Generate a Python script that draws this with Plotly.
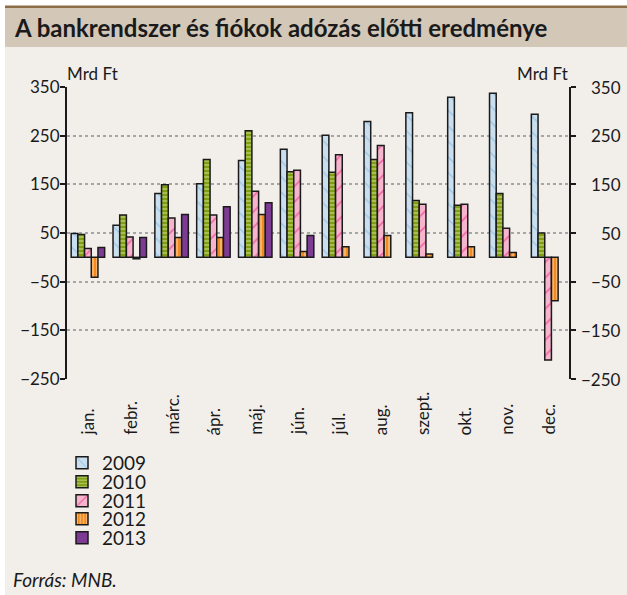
"""Bank system pre-tax result by month (MNB chart)."""
import plotly.graph_objects as go

MONTHS = ['jan.', 'febr.', 'márc.', 'ápr.', 'máj.', 'jún.',
          'júl.', 'aug.', 'szept.', 'okt.', 'nov.', 'dec.']
YEARS = ['2009', '2010', '2011', '2012', '2013']

V2009 = [49, 66, 131, 151, 199, 222, 251, 279, 297, 329, 337, 294]
V2010 = [47, 87, 149, 201, 260, 176, 175, 201, 117, 107, 131, 50]
V2011 = [18, 42, 81, 87, 136, 179, 211, 230, 109, 109, 60, -211]
V2012 = [-41, -3, 41, 41, 88, 12, 22, 45, 7, 22, 10, -89]
V2013 = [20, 41, 88, 104, 112, 45, None, None, None, None, None, None]

Y_TICKS = [350, 250, 150, 50, -50, -150, -250]
Y_RANGE = [-250, 350]

TITLE = 'A bankrendszer és fiókok adózás előtti eredménye'
UNIT = 'Mrd Ft'
SOURCE = 'Forrás: MNB.'

FONT = 'Lato, Arial, sans-serif'
TEXT = '#1a1a1a'
BG = '#f2efeb'
BAND = '#d3c7b8'
BROWN = '#8c6d46'
GRID = '#a6a6a6'

STYLES = [
    dict(color='#c9dff0', shape='\\', fg='#6fa8d6', size=11, solidity=0.12),
    dict(color='#809f10', shape='-', fg='#dce8a8', size=4, solidity=0.45),
    dict(color='#f7b5cd', shape='/', fg='#e8187c', size=11, solidity=0.15),
    dict(color='#f28a1c', shape='|', fg='#ffffff', size=4, solidity=0.35),
    dict(color='#7e3b94', shape='', fg='#7e3b94', size=4, solidity=0.3),
]

W, H = 627, 595
L, R, T, B = 67, 58, 87, 216
PW, PH = W - L - R, H - T - B

# legend rows (pixel centres) - one small legend per year
LEGEND_ROWS = [463, 482, 501, 519, 538]


def px(x):
    return (x - L) / PW


def py(y):
    return (H - B - y) / PH


def fmt(v):
    return f'{v}'.replace('-', '\u2212')


fig = go.Figure()

for i, (year, vals, st) in enumerate(zip(YEARS, [V2009, V2010, V2011, V2012, V2013], STYLES)):
    fig.add_trace(go.Bar(
        x=MONTHS, y=vals, name=year,
        legend='legend' if i == 0 else f'legend{i + 1}',
        marker=dict(
            color=st['color'],
            line=dict(color=TEXT, width=1.5),
            pattern=dict(shape=st['shape'], fgcolor=st['fg'], size=st['size'],
                         solidity=st['solidity']),
        ),
    ))

shapes = [
    dict(type='rect', xref='paper', yref='paper', x0=px(5), x1=px(W), y0=py(H), y1=py(8),
         fillcolor=BG, line_width=0, layer='below'),
    dict(type='rect', xref='paper', yref='paper', x0=px(5), x1=px(W), y0=py(47), y1=py(8),
         fillcolor=BAND, line_width=0, layer='below'),
    dict(type='rect', xref='paper', yref='paper', x0=px(5), x1=px(W), y0=py(8), y1=py(5.5),
         fillcolor=BROWN, line_width=0, layer='below'),
]

annotations = [
    dict(text=f'<b>{TITLE}</b>', xref='paper', yref='paper', x=px(12), y=py(28),
         xanchor='left', yanchor='middle', showarrow=False,
         font=dict(size=24, color=TEXT, family=FONT)),
    dict(text=UNIT, xref='paper', yref='paper', x=px(65), y=py(73),
         xanchor='left', yanchor='middle', showarrow=False,
         font=dict(size=17, color=TEXT, family=FONT)),
    dict(text=UNIT, xref='paper', yref='paper', x=px(570), y=py(73),
         xanchor='right', yanchor='middle', showarrow=False,
         font=dict(size=17, color=TEXT, family=FONT)),
    dict(text=f'<i>{SOURCE}</i>', xref='paper', yref='paper', x=px(11), y=py(579),
         xanchor='left', yanchor='middle', showarrow=False,
         font=dict(size=19, color=TEXT, family=FONT)),
]
# month labels, rotated and bottom-aligned
for m in MONTHS:
    annotations.append(dict(
        text=m, xref='x', yref='paper', x=m, y=py(437),
        xanchor='center', yanchor='bottom', textangle=-90, showarrow=False,
        font=dict(size=17, color=TEXT, family=FONT)))
# right-hand tick labels are right-aligned in the original
for v in Y_TICKS:
    annotations.append(dict(
        text=fmt(v), xref='paper', yref='y', x=px(623), y=v,
        xanchor='right', yanchor='middle', showarrow=False,
        font=dict(size=17, color=TEXT, family=FONT)))

zero_pos = (0 - Y_RANGE[0]) / (Y_RANGE[1] - Y_RANGE[0])

legends = {}
for i, yc in enumerate(LEGEND_ROWS):
    key = 'legend' if i == 0 else f'legend{i + 1}'
    legends[key] = dict(x=px(62), y=py(yc), xanchor='left', yanchor='middle',
                        bgcolor='rgba(0,0,0,0)',
                        font=dict(size=19, family=FONT, color=TEXT))

fig.update_layout(
    width=W, height=H,
    margin=dict(l=L, r=R, t=T, b=B, autoexpand=False),
    paper_bgcolor='white',
    plot_bgcolor='rgba(0,0,0,0)',
    font=dict(family=FONT, size=17, color=TEXT),
    barmode='group',
    bargap=0.2,
    bargroupgap=0,
    shapes=shapes,
    annotations=annotations,
    showlegend=True,
    xaxis=dict(range=[-0.5, len(MONTHS) - 0.5], showticklabels=False, ticks='',
               showgrid=False, showline=False, zeroline=False, fixedrange=True),
    xaxis2=dict(overlaying='x', anchor='free', position=zero_pos,
                range=[-0.5, len(MONTHS) - 0.5],
                tickvals=[i + 0.5 for i in range(len(MONTHS) - 1)],
                ticks='outside', ticklen=5, tickwidth=2, tickcolor=TEXT,
                showticklabels=False, showgrid=False, zeroline=False,
                showline=True, linecolor=TEXT, linewidth=2),
    yaxis=dict(range=Y_RANGE, tickvals=Y_TICKS, ticks='outside', ticklen=5,
               tickwidth=2, tickcolor=TEXT, showline=True, linecolor=TEXT, linewidth=2,
               mirror='ticks',
               showgrid=True, gridcolor=GRID, griddash='dot', gridwidth=1.5,
               zeroline=False, tickfont=dict(size=17), ticklabelstandoff=-3),
    **legends,
)

# drop the browser's default 8px body margin so the figure sits at the page corner
fig.write_html('out.html', config={'displayModeBar': False},
               post_script="document.body.style.margin='0';")
